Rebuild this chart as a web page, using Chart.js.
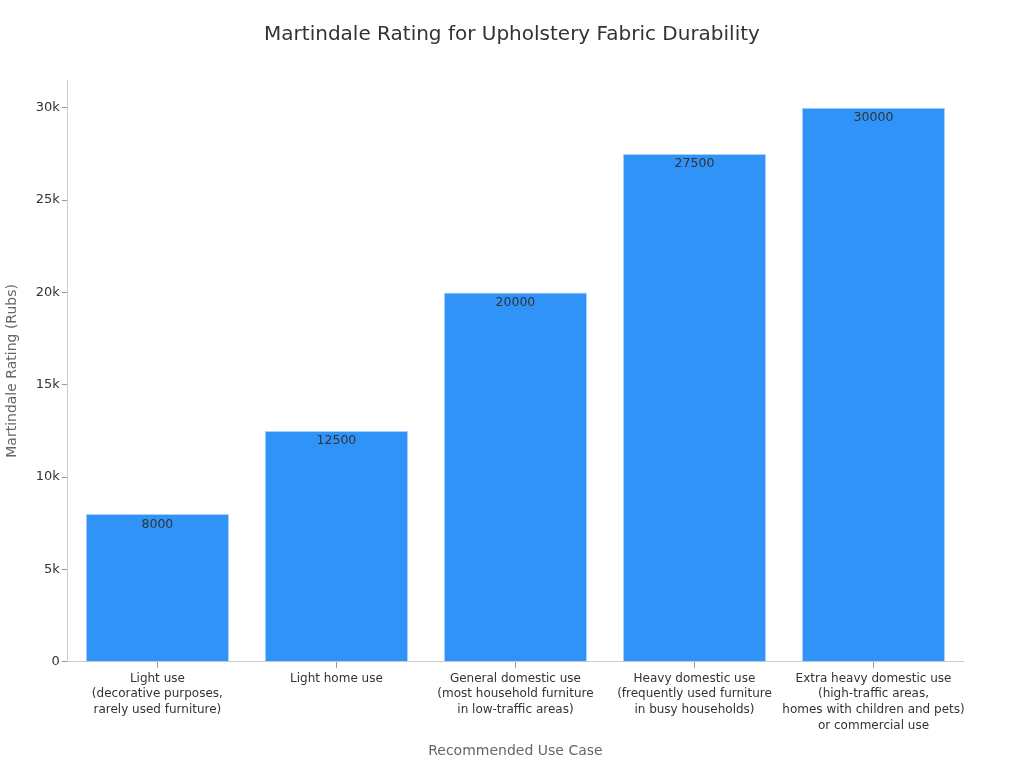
<html>
<head>
  <title>Martindale Rating</title>
  <script src="https://cdn.jsdelivr.net/npm/chart.js"></script>
  <style>
    body { margin: 0; background: #fff; }
    #wrap { width: 1024px; height: 768px; }
  </style>
</head>
<body>
  <div id="wrap"><canvas id="chart" width="1024" height="768"></canvas></div>
  <script>
    // categories (multi-line labels) and values
    const useCases = [
      ['Light use', '(decorative purposes,', 'rarely used furniture)'],
      ['Light home use'],
      ['General domestic use', '(most household furniture', 'in low-traffic areas)'],
      ['Heavy domestic use', '(frequently used furniture', 'in busy households)'],
      ['Extra heavy domestic use', '(high-traffic areas,', 'homes with children and pets)', 'or commercial use']
    ];
    const rubs = [8000, 12500, 20000, 27500, 30000];
    const yTicks = [0, 5000, 10000, 15000, 20000, 25000, 30000];

    // draws the value just inside the top of each bar
    const valueLabels = {
      id: 'valueLabels',
      afterDatasetsDraw(chart) {
        const ctx = chart.ctx;
        const meta = chart.getDatasetMeta(0);
        ctx.save();
        ctx.font = '12.5px "DejaVu Sans"';
        ctx.fillStyle = '#333';
        ctx.textAlign = 'center';
        ctx.textBaseline = 'top';
        meta.data.forEach((bar, i) => {
          ctx.fillText(String(rubs[i]), bar.x, bar.y + 4);
        });
        ctx.restore();
      }
    };

    new Chart(document.getElementById('chart'), {
      type: 'bar',
      data: {
        labels: useCases,
        datasets: [{
          data: rubs,
          backgroundColor: '#2f93f8',
          borderColor: '#a9d3fb',
          borderWidth: 1,
          barPercentage: 0.8,
          categoryPercentage: 1.0
        }]
      },
      options: {
        responsive: false,
        animation: false,
        layout: { padding: { left: 0, right: 0, top: 10, bottom: 4 } },
        plugins: {
          legend: { display: false },
          tooltip: { enabled: false },
          title: {
            display: true,
            text: 'Martindale Rating for Upholstery Fabric Durability',
            color: '#333',
            font: { family: 'DejaVu Sans', size: 20, weight: 'normal' },
            padding: { top: 13, bottom: 33 }
          }
        },
        scales: {
          x: {
            grid: { display: true, offset: false, drawOnChartArea: false, tickLength: 6, color: '#999' },
            border: { color: '#ccc' },
            ticks: {
              color: '#333',
              font: { family: 'DejaVu Sans', size: 12, lineHeight: 1.3 },
              padding: 3,
              maxRotation: 0,
              autoSkip: false
            },
            title: {
              display: true,
              text: 'Recommended Use Case',
              color: '#666',
              font: { family: 'DejaVu Sans', size: 14 },
              padding: { top: 7 }
            }
          },
          y: {
            min: 0,
            max: 31500,
            afterBuildTicks(axis) {
              axis.ticks = yTicks.map(v => ({ value: v }));
            },
            grid: { display: true, drawOnChartArea: false, tickLength: 6, color: '#999' },
            border: { color: '#ccc' },
            ticks: {
              color: '#333',
              font: { family: 'DejaVu Sans', size: 13 },
              padding: 2,
              callback: v => v === 0 ? '0' : (v / 1000) + 'k'
            },
            title: {
              display: true,
              text: 'Martindale Rating (Rubs)',
              color: '#666',
              font: { family: 'DejaVu Sans', size: 14 },
              padding: { bottom: 13 }
            }
          },
          // empty right-hand scale so the title stays centred on the page
          pad: {
            position: 'right',
            display: true,
            grid: { display: false },
            border: { display: false },
            ticks: { display: false },
            afterFit(scale) { scale.width = 61; }
          }
        }
      },
      plugins: [valueLabels]
    });
  </script>
</body>
</html>
